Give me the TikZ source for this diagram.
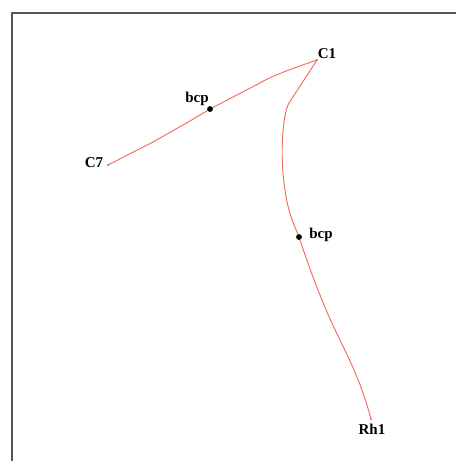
\documentclass[tikz,border=0pt]{standalone}
\usepackage{fontspec}
\setmainfont{Liberation Serif}
\definecolor{bond}{RGB}{240,105,85}
\definecolor{frame}{RGB}{85,85,85}
\begin{document}
\begin{tikzpicture}[x=1pt,y=-1pt,
  lbl/.style={font=\bfseries\fontsize{15}{17}\selectfont,inner sep=0pt,anchor=base},
  bondline/.style={draw=bond,line width=0.9pt},
  bcpdot/.style={circle,fill=black,inner sep=0pt,minimum size=5.5pt},
  atomdot/.style={circle,fill=frame,inner sep=0pt,minimum size=1.6pt}]
\useasboundingbox (0,0) rectangle (456,461);
\fill[white] (0,0) rectangle (456,461);
\draw[frame,line width=1.3pt] (12,461) -- (12,13) -- (456,13);
% atoms
\node[atomdot] (c1) at (317,60) {};
\node[atomdot] (c7) at (108,165) {};
\node[atomdot] (rh1) at (371,419) {};
\node[bcpdot] (b1) at (210,109) {};
\node[bcpdot] (b2) at (299,237) {};
% bonds
\draw[bondline] (c1.center) .. controls (300,66) and (275,74) .. (258,84)
  -- (b1.center) -- (190,121) -- (153,142) -- (c7.center);
\draw[bondline] (c1.center) -- (289,103) .. controls (282,115) and (280,160) .. (285,190)
  .. controls (288,212) and (294,225) .. (b2.center)
  .. controls (305,255) and (320,300) .. (340,340)
  .. controls (352,365) and (362,385) .. (rh1.center);
\node[bcpdot] at (b1) {};
\node[bcpdot] at (b2) {};
% labels
\node[lbl] (lc1) at (327,58) {C1};
\node[lbl] (lc7) at (94,167) {C7};
\node[lbl] (lb1) at (197,102) {bcp};
\node[lbl] (lb2) at (321,238) {bcp};
\node[lbl] (lrh1) at (372,434) {Rh1};
\end{tikzpicture}
\end{document}
